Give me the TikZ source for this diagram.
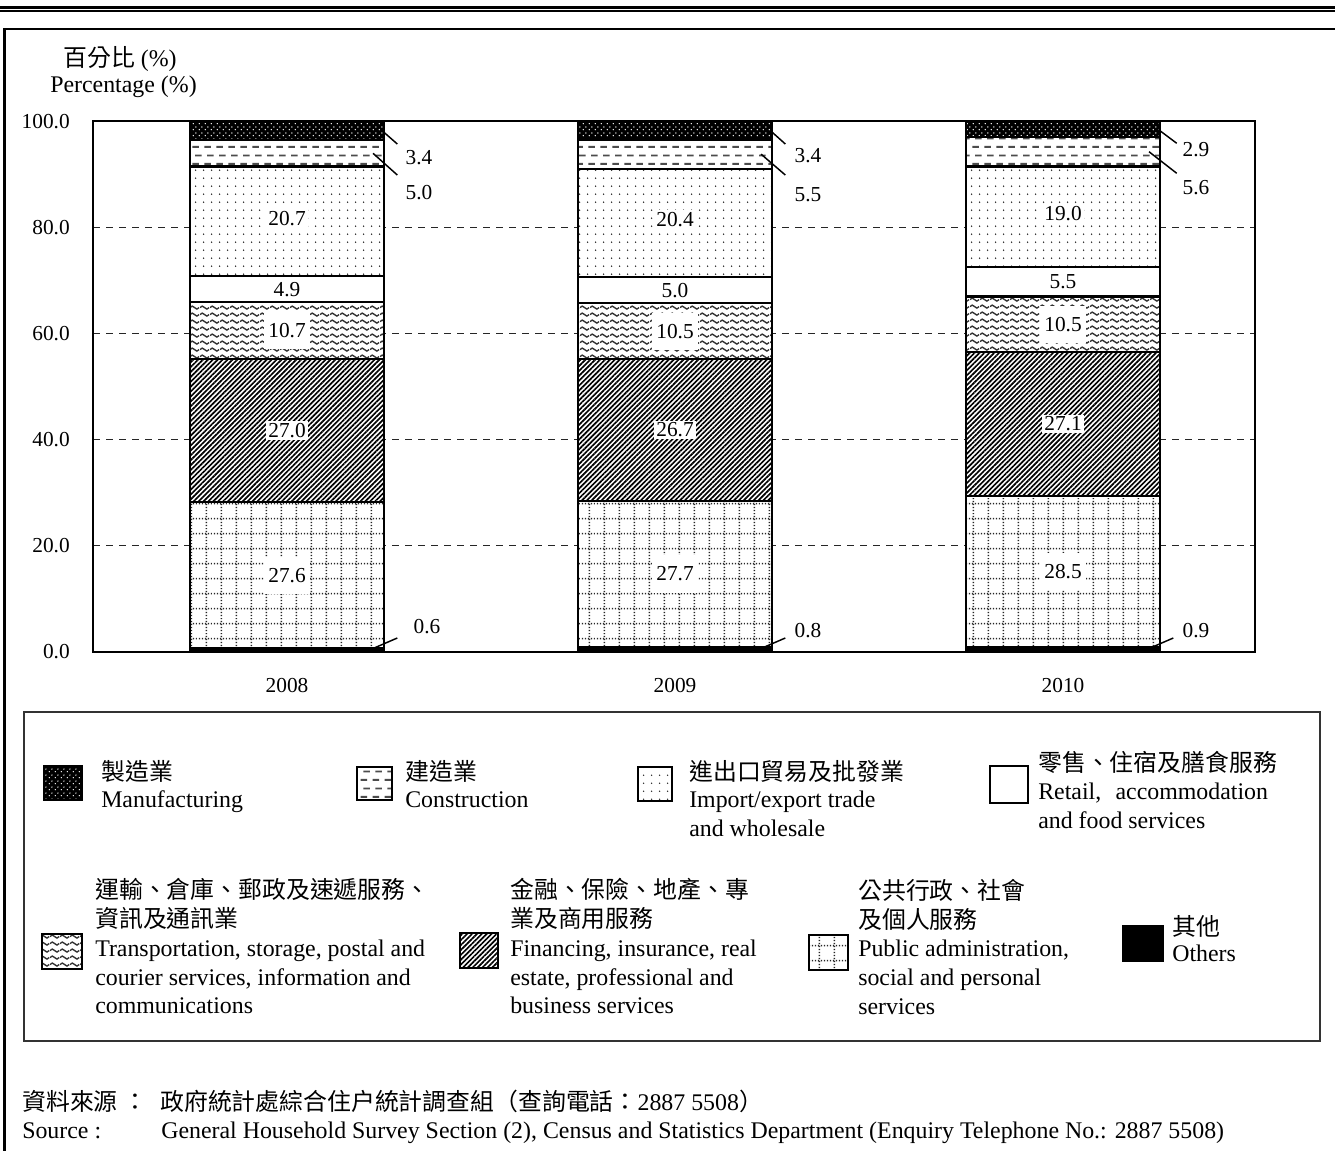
\documentclass[tikz,border=0pt]{standalone}
\usepackage{fontspec}
\setmainfont{Liberation Serif}
\newfontfamily\cjk{Noto Sans CJK TC}
\usetikzlibrary{patterns,patterns.meta}

\newcommand\lgf{\fontsize{17.9pt}{21pt}\selectfont}
\newcommand\numf{\fontsize{16pt}{19pt}\selectfont}

\tikzdeclarepattern{
  name=mfgdots, type=uncolored,
  bounding box={(0pt,0pt) and (4.5pt,4.5pt)},
  tile size={(4.5pt,4.5pt)},
  code={\pgfpathcircle{\pgfqpoint{1.1pt}{1.1pt}}{0.6pt}%
        \pgfpathcircle{\pgfqpoint{3.35pt}{3.35pt}}{0.6pt}%
        \pgfusepath{fill}}
}
\tikzdeclarepattern{
  name=condash, type=uncolored,
  bounding box={(0pt,0pt) and (9pt,12.5pt)},
  tile size={(9pt,12.5pt)},
  code={\pgfsetlinewidth{1.4pt}%
        \pgfpathmoveto{\pgfqpoint{0.4pt}{3.1pt}}\pgfpathlineto{\pgfqpoint{5.6pt}{3.1pt}}%
        \pgfpathmoveto{\pgfqpoint{2.6pt}{9.35pt}}\pgfpathlineto{\pgfqpoint{7.8pt}{9.35pt}}%
        \pgfusepath{stroke}}
}
\tikzdeclarepattern{
  name=impdots, type=uncolored,
  bounding box={(0pt,0pt) and (6pt,5.8pt)},
  tile size={(6pt,5.8pt)},
  code={\pgfpathcircle{\pgfqpoint{3pt}{2.9pt}}{0.65pt}\pgfusepath{fill}}
}
\tikzdeclarepattern{
  name=trnwave, type=uncolored,
  bounding box={(0pt,0pt) and (7.5pt,5.5pt)},
  tile size={(7.5pt,5.5pt)},
  code={\pgfsetlinewidth{1.1pt}%
        \pgfpathmoveto{\pgfqpoint{0pt}{2.75pt}}%
        \pgfpathsine{\pgfqpoint{1.875pt}{1.2pt}}%
        \pgfpathcosine{\pgfqpoint{1.875pt}{-1.2pt}}%
        \pgfpathsine{\pgfqpoint{1.875pt}{-1.2pt}}%
        \pgfpathcosine{\pgfqpoint{1.875pt}{1.2pt}}%
        \pgfusepath{stroke}}
}
\tikzdeclarepattern{
  name=pubgrid, type=uncolored,
  bounding box={(0pt,0pt) and (11.5pt,11.5pt)},
  tile size={(11.5pt,11.5pt)},
  code={\pgfsetlinewidth{1.1pt}%
        \pgfsetdash{{0.95pt}{1.35pt}}{0pt}%
        \pgfpathmoveto{\pgfqpoint{0pt}{5.75pt}}\pgfpathlineto{\pgfqpoint{11.5pt}{5.75pt}}%
        \pgfpathmoveto{\pgfqpoint{5.75pt}{0pt}}\pgfpathlineto{\pgfqpoint{5.75pt}{11.5pt}}%
        \pgfusepath{stroke}}
}

\tikzset{
  seg/.style={draw=black, line width=1.6pt},
  mfgsty/.style={preaction={fill=black}, pattern=mfgdots, pattern color=white},
  consty/.style={preaction={fill=white}, pattern=condash, pattern color=black!70},
  impsty/.style={preaction={fill=white}, pattern=impdots, pattern color=black!85},
  retsty/.style={fill=white},
  trnsty/.style={preaction={fill=white}, pattern=trnwave, pattern color=black!80},
  finsty/.style={preaction={fill=white}, pattern={Lines[angle=45,distance=2.6pt,line width=1.25pt]}, pattern color=black},
  pubsty/.style={preaction={fill=white}, pattern=pubgrid, pattern color=black!85},
  othsty/.style={fill=black},
  gridln/.style={black!85, line width=0.75pt, dash pattern=on 5.25pt off 4.5pt},
  leader/.style={black, line width=1.1pt},
  num/.style={font=\numf, inner sep=0pt},
  vlab/.style={font=\numf, fill=white, inner sep=1.5pt},
  vlabbig/.style={font=\numf, fill=white, inner xsep=3pt, minimum height=28pt},
  lg/.style={anchor=base west, font=\lgf, inner sep=0pt},
  lgc/.style={anchor=base west, font=\lgf\cjk, inner sep=0pt},
  icon/.style={draw=black, line width=1.5pt},
}

\newcommand\stackbar[9]{%
  \pgfmathsetmacro\xl{#2}\pgfmathsetmacro\xr{#2+194}\pgfmathsetmacro\xc{#2+97}%
  \path[seg,othsty] (\xl,0) rectangle (\xr,#3);
  \path[seg,pubsty] (\xl,#3) rectangle (\xr,#4);
  \path[seg,finsty] (\xl,#4) rectangle (\xr,#5);
  \path[seg,trnsty] (\xl,#5) rectangle (\xr,#6);
  \path[seg,retsty] (\xl,#6) rectangle (\xr,#7);
  \path[seg,impsty] (\xl,#7) rectangle (\xr,#8);
  \path[seg,consty] (\xl,#8) rectangle (\xr,#9);
  \path[seg,mfgsty] (\xl,#9) rectangle (\xr,100);
  \coordinate (#1-pub) at (\xc,{(#3+#4)/2});
  \coordinate (#1-fin) at (\xc,{(#4+#5)/2});
  \coordinate (#1-trn) at (\xc,{(#5+#6)/2});
  \coordinate (#1-ret) at (\xc,{(#6+#7)/2});
  \coordinate (#1-imp) at (\xc,{(#7+#8)/2+0.6});
  \coordinate (#1-con) at ({\xr-11},{(#8+#9)/2});
  \coordinate (#1-mfg) at ({\xr},{(#9+100)/2-0.3});
  \coordinate (#1-oth) at ({\xr-11},0.6);
}

\begin{document}
\begin{tikzpicture}[x=0.75pt,y=-0.75pt]
\useasboundingbox (0,0) rectangle (1335,1151);

% page rules
\draw[line width=2.25pt] (0,7.5) -- (1335,7.5);
\draw[line width=1.3pt] (0,10.8) -- (1335,10.8);
\draw[line width=1.5pt] (4.7,29.3) -- (1335,29.3);
\draw[line width=2pt] (4.7,28.5) -- (4.7,1151);

% axis titles
\node[lg] (ttlzh) at (63,67) {{\cjk 百分比}\ (\%)};
\node[lg] (ttlen) at (50,93) {Percentage (\%)};

% y labels
\node[num, anchor=east] (y100) at (70,121.5) {100.0};
\node[num, anchor=east] (y80) at (70,227.5) {80.0};
\node[num, anchor=east] (y60) at (70,333.5) {60.0};
\node[num, anchor=east] (y40) at (70,439.6) {40.0};
\node[num, anchor=east] (y20) at (70,545.6) {20.0};
\node[num, anchor=east] (y0) at (70,651.7) {0.0};

\begin{scope}[shift={(0,651.7)}, y=3.9765pt]
  \foreach \v in {20,40,60,80} \draw[gridln] (93,\v) -- (1255,\v);
  \stackbar{A}{190}{0.6}{28.2}{55.2}{65.9}{70.8}{91.5}{96.5}
  \stackbar{B}{578}{0.8}{28.5}{55.2}{65.7}{70.7}{91.1}{96.6}
  \stackbar{C}{966}{0.9}{29.4}{56.5}{67.0}{72.5}{91.5}{97.1}
  \draw[line width=1.5pt] (93,0) rectangle (1255,100);
\end{scope}

% inner labels
\node[vlabbig] (A-publab) at (A-pub) {27.6};
\node[vlab] (A-finlab) at (A-fin) {27.0};
\node[vlabbig] (A-trnlab) at (A-trn) {10.7};
\node[num] (A-retlab) at (A-ret) {4.9};
\node[vlab] (A-implab) at (A-imp) {20.7};
\node[vlabbig] (B-publab) at (B-pub) {27.7};
\node[vlab] (B-finlab) at (B-fin) {26.7};
\node[vlabbig] (B-trnlab) at (B-trn) {10.5};
\node[num] (B-retlab) at (B-ret) {5.0};
\node[vlab] (B-implab) at (B-imp) {20.4};
\node[vlabbig] (C-publab) at (C-pub) {28.5};
\node[vlab] (C-finlab) at (C-fin) {27.1};
\node[vlabbig] (C-trnlab) at (C-trn) {10.5};
\node[num] (C-retlab) at (C-ret) {5.5};
\node[vlab] (C-implab) at (C-imp) {19.0};

% leader ends
\coordinate (A-mfgend) at (397.3,144);
\coordinate (A-conend) at (397.3,175);
\coordinate (A-othend) at (397.3,638);
\coordinate (B-mfgend) at (785.3,144);
\coordinate (B-conend) at (785.3,175);
\coordinate (B-othend) at (785.3,638);
\coordinate (C-mfgend) at (1176.7,143.3);
\coordinate (C-conend) at (1176.7,173.3);
\coordinate (C-othend) at (1173.3,638);
\foreach \b in {A,B,C} {
  \draw[leader] (\b-mfg) -- (\b-mfgend);
  \draw[leader] (\b-con) -- (\b-conend);
  \draw[leader] (\b-oth) -- (\b-othend);
}
\node[num] (A-mfglab) at (419,157.5) {3.4};
\node[num] (A-conlab) at (419,193) {5.0};
\node[num] (A-othlab) at (427,627) {0.6};
\node[num] (B-mfglab) at (808,156) {3.4};
\node[num] (B-conlab) at (808,195) {5.5};
\node[num] (B-othlab) at (808,631) {0.8};
\node[num] (C-mfglab) at (1196,150) {2.9};
\node[num] (C-conlab) at (1196,188) {5.6};
\node[num] (C-othlab) at (1196,631) {0.9};

% years
\node[num] (yr2008) at (287,686) {2008};
\node[num] (yr2009) at (675,686) {2009};
\node[num] (yr2010) at (1063,686) {2010};

% legend box
\draw[black!80, line width=1.2pt] (24,712) rectangle (1320,1041);

% legend icons
\path[icon,mfgsty] (44,766) rectangle (82,800);
\path[icon,consty] (357,767) rectangle (392,800);
\path[icon,impsty] (638,767) rectangle (672,801);
\path[icon,retsty] (990,766) rectangle (1028,803);
\path[icon,trnsty] (42,934) rectangle (82,969);
\path[icon,finsty] (460,933) rectangle (498,968);
\path[icon,pubsty] (809,935) rectangle (848,970);
\path[icon,othsty] (1123,926) rectangle (1163,961);

% legend texts
\node[lgc] (lgmfg1) at (101,780) {製造業};
\node[lg] (lgmfg2) at (101,807) {Manufacturing};
\node[lgc] (lgcon1) at (405,780) {建造業};
\node[lg] (lgcon2) at (405,807) {Construction};
\node[lgc] (lgimp1) at (689,780) {進出口貿易及批發業};
\node[lg] (lgimp2) at (689,807) {Import/export trade};
\node[lg] (lgimp3) at (689,836) {and wholesale};
\node[lgc] (lgret1) at (1038,771) {零售、住宿及膳食服務};
\node[lg] (lgret2) at (1038,799) {Retail,\hspace{0.6em}accommodation};
\node[lg] (lgret3) at (1038,828) {and food services};

\node[lgc] (lgtrn1) at (95,898) {運輸、倉庫、郵政及速遞服務、};
\node[lgc] (lgtrn2) at (95,927) {資訊及通訊業};
\node[lg] (lgtrn3) at (95,956.5) {Transportation, storage, postal and};
\node[lg] (lgtrn4) at (95,985) {courier services, information and};
\node[lg] (lgtrn5) at (95,1013.5) {communications};
\node[lgc] (lgfin1) at (510,898) {金融、保險、地產、專};
\node[lgc] (lgfin2) at (510,927) {業及商用服務};
\node[lg] (lgfin3) at (510,956.5) {Financing, insurance, real};
\node[lg] (lgfin4) at (510,985) {estate, professional and};
\node[lg] (lgfin5) at (510,1013.5) {business services};
\node[lgc] (lgpub1) at (858,899) {公共行政、社會};
\node[lgc] (lgpub2) at (858,928) {及個人服務};
\node[lg] (lgpub3) at (858,956.7) {Public administration,};
\node[lg] (lgpub4) at (858,985.5) {social and personal};
\node[lg] (lgpub5) at (858,1014) {services};
\node[lgc] (lgoth1) at (1172,935.6) {其他};
\node[lg] (lgoth2) at (1172,961.7) {Others};

% source
\node[lgc] (srczh1) at (22,1110) {資料來源 ：};
\node[lg] (srczh2) at (160,1110) {{\cjk 政府統計處綜合住户統計調查組（查詢電話：}2887 5508{\cjk ）}};
\node[lg] (srcen1) at (22,1138) {Source :};
\node[lg] (srcen2) at (161,1138) {General Household Survey Section (2), Census and Statistics Department (Enquiry Telephone No.: 2887 5508)};
\end{tikzpicture}
\end{document}
